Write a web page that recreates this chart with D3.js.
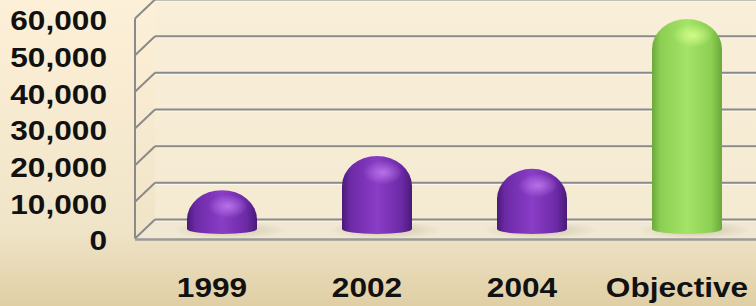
<!DOCTYPE html>
<html>
<head>
<meta charset="utf-8">
<script src="https://cdn.jsdelivr.net/npm/d3@7"></script>
<style>
  html, body { margin: 0; padding: 0; }
  body { width: 756px; height: 306px; overflow: hidden; }
  text { font-family: "Liberation Sans", Arial, sans-serif; font-weight: bold; fill: #111; }
</style>
</head>
<body>
<svg id="chart" width="756" height="306"></svg>
<script>
const categories = ['1999', '2002', '2004', 'Objective'];
const values = [10600, 19900, 16400, 57300];
const yTicks = [0, 10000, 20000, 30000, 40000, 50000, 60000];

const W = 756;
const H = 306;
// 3d depth: back wall to front edge
const depth = { dx: -20, dy: 19 };
const wall = { left: 155, right: 780 };

const svg = d3.select('#chart');
const defs = svg.append('defs');

// background
const bg = defs.append('linearGradient')
  .attr('id', 'bg').attr('x1', 0).attr('y1', 0).attr('x2', 0).attr('y2', 1);
bg.append('stop').attr('offset', 0).attr('stop-color', '#fdf0d8');
bg.append('stop').attr('offset', 0.75).attr('stop-color', '#f0e4c8');
bg.append('stop').attr('offset', 1).attr('stop-color', '#e0cfa5');
svg.append('rect').attr('width', W).attr('height', H).attr('fill', 'url(#bg)');

const y = d3.scaleLinear().domain([0, 60000]).range([219.5, -0.5]);
const x = d3.scalePoint().domain(categories).range([232, 697]);

// back wall
svg.append('rect')
  .attr('x', wall.left).attr('y', y(60000))
  .attr('width', wall.right - wall.left).attr('height', y(0) - y(60000))
  .attr('fill', '#f6eed8').attr('opacity', 0.6);

// floor
svg.append('path')
  .attr('d', `M${wall.left},${y(0)} L${wall.right},${y(0)} L${wall.right + depth.dx},${y(0) + depth.dy} L${wall.left + depth.dx},${y(0) + depth.dy}Z`)
  .attr('fill', '#f0e8d2');

// gridlines on back wall + left wall diagonals
const grid = svg.append('g');
yTicks.forEach((t) => {
  grid.append('line')
    .attr('x1', wall.left).attr('x2', wall.right)
    .attr('y1', y(t) + 1.5).attr('y2', y(t) + 1.5)
    .attr('stroke', '#ffffff').attr('stroke-width', 1).attr('opacity', 0.8);
  grid.append('line')
    .attr('x1', wall.left).attr('x2', wall.right)
    .attr('y1', y(t)).attr('y2', y(t))
    .attr('stroke', '#8a8a8a').attr('stroke-width', 2);
  grid.append('line')
    .attr('x1', wall.left).attr('x2', wall.left + depth.dx)
    .attr('y1', y(t)).attr('y2', y(t) + depth.dy)
    .attr('stroke', '#8a8a8a').attr('stroke-width', 2);
});
// front left edge and front floor edge
grid.append('line')
  .attr('x1', wall.left + depth.dx).attr('x2', wall.left + depth.dx)
  .attr('y1', y(60000) + depth.dy).attr('y2', y(0) + depth.dy)
  .attr('stroke', '#8a8a8a').attr('stroke-width', 2);
grid.append('line')
  .attr('x1', wall.left + depth.dx).attr('x2', wall.right)
  .attr('y1', y(0) + depth.dy + 1).attr('y2', y(0) + depth.dy + 1)
  .attr('stroke', '#9a9a9a').attr('stroke-width', 2.5);

// cylinder gradients
function cylGradient(id, dark, mid, light) {
  const g = defs.append('linearGradient')
    .attr('id', id).attr('x1', 0).attr('y1', 0).attr('x2', 1).attr('y2', 0);
  g.append('stop').attr('offset', 0).attr('stop-color', dark);
  g.append('stop').attr('offset', 0.12).attr('stop-color', mid);
  g.append('stop').attr('offset', 0.5).attr('stop-color', light);
  g.append('stop').attr('offset', 0.85).attr('stop-color', mid);
  g.append('stop').attr('offset', 1).attr('stop-color', dark);
}
cylGradient('purple', '#4a1a78', '#6c2aa6', '#8a3dc6');
cylGradient('green', '#6aa83c', '#8ccf52', '#a4e468');

function hiGradient(id, color) {
  const g = defs.append('radialGradient')
    .attr('id', id).attr('cx', 0.55).attr('cy', 0.5).attr('r', 0.5);
  g.append('stop').attr('offset', 0).attr('stop-color', color).attr('stop-opacity', 0.85);
  g.append('stop').attr('offset', 1).attr('stop-color', color).attr('stop-opacity', 0);
}
hiGradient('purpleHi', '#c07cf0');
hiGradient('greenHi', '#dcff90');

const shadow = defs.append('radialGradient').attr('id', 'shadow');
shadow.append('stop').attr('offset', 0).attr('stop-color', '#b8ad94').attr('stop-opacity', 0.6);
shadow.append('stop').attr('offset', 1).attr('stop-color', '#b8ad94').attr('stop-opacity', 0);

const barW = 70;
const rx = barW / 2;
const ry = 30;
const eH = 5;
const mid = { dx: depth.dx / 2, dy: depth.dy / 2 };

const bars = svg.append('g')
  .selectAll('g')
  .data(categories.map((c, i) => ({ c, v: values[i], i })))
  .join('g')
  .attr('transform', (d) => `translate(${x(d.c) + mid.dx},0)`);

bars.append('ellipse')
  .attr('cx', 8).attr('cy', y(0) + mid.dy + 1)
  .attr('rx', rx + 22).attr('ry', 9)
  .attr('fill', 'url(#shadow)');

bars.append('path')
  .attr('d', (d) => {
    const top = y(d.v) + mid.dy;
    const base = y(0) + mid.dy;
    const r = Math.min(ry, (base - top) * 0.75);
    return `M${-rx},${base} L${-rx},${top + r} A${rx},${r} 0 0 1 ${rx},${top + r} L${rx},${base} A${rx},${eH} 0 0 1 ${-rx},${base}Z`;
  })
  .attr('fill', (d) => (d.c === 'Objective' ? 'url(#green)' : 'url(#purple)'));

bars.append('ellipse')
  .attr('cx', 4)
  .attr('cy', (d) => y(d.v) + mid.dy + Math.min(ry, (y(0) - y(d.v)) * 0.75) * 0.55)
  .attr('rx', 20).attr('ry', 12)
  .attr('fill', (d) => (d.c === 'Objective' ? 'url(#greenHi)' : 'url(#purpleHi)'));

// y axis labels on front plane
const fmt = d3.format(',');
const sx = 1.13;
svg.append('g')
  .selectAll('text')
  .data(yTicks)
  .join('text')
  .attr('text-anchor', 'end')
  .attr('dominant-baseline', 'central')
  .attr('font-size', 28)
  .attr('transform', (d) => `translate(107,${y(d) + depth.dy + 2}) scale(${sx},1)`)
  .text((d) => fmt(d));

// category labels
svg.append('g')
  .selectAll('text')
  .data(categories)
  .join('text')
  .attr('text-anchor', 'middle')
  .attr('font-size', 28)
  .attr('transform', (d) => `translate(${x(d) + depth.dx},297) scale(${sx},1)`)
  .text((d) => d);
</script>
</body>
</html>
